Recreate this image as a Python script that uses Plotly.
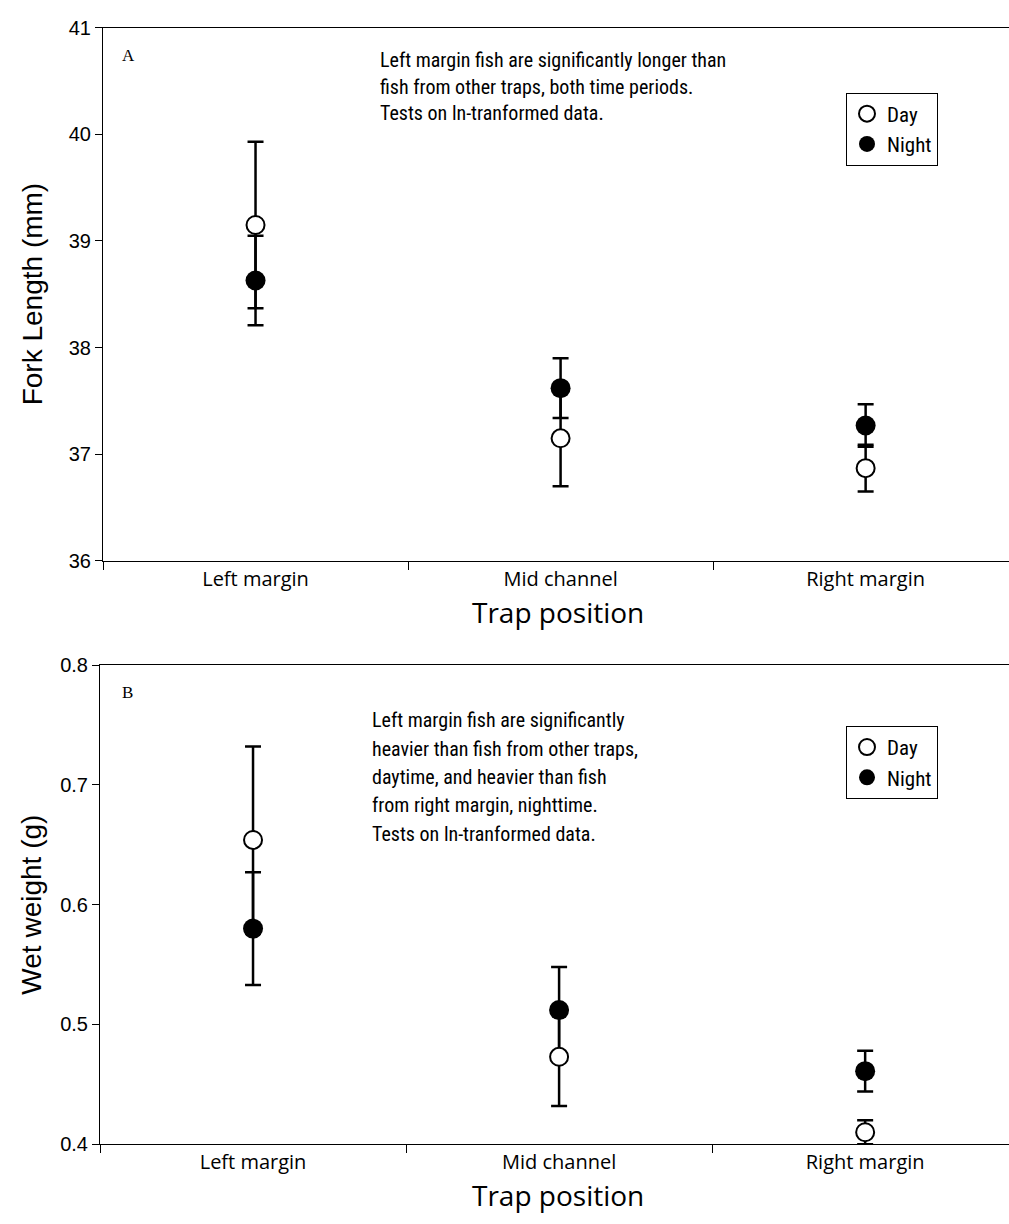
import plotly.graph_objects as go

# ---- data ----
categories = ["Left margin", "Mid channel", "Right margin"]
cat_pos = [1, 2, 3]

fl_day = [39.15, 37.15, 36.87]
fl_day_err = [0.78, 0.45, 0.22]
fl_night = [38.63, 37.62, 37.27]
fl_night_err = [0.42, 0.28, 0.20]

ww_day = [0.654, 0.473, 0.410]
ww_day_err = [0.078, 0.041, 0.010]
ww_night = [0.580, 0.512, 0.461]
ww_night_err = [0.047, 0.036, 0.017]

note_a = ["Left margin fish are significantly longer than",
          "fish from other traps, both time periods.",
          "Tests on ln-tranformed data."]
note_b = ["Left margin fish are significantly",
          "heavier than fish from other traps,",
          "daytime, and heavier than fish",
          "from right margin, nighttime.",
          "Tests on ln-tranformed data."]

W, H = 1009, 1224
COND = "Liberation Sans Narrow, Roboto Condensed, DejaVu Sans Condensed, sans-serif"
ARIAL = "Liberation Sans, Arial, sans-serif"
HUMAN = "Open Sans, Lato, sans-serif"


def px_y(p):
    return 1 - p / H


def px_x(p):
    return p / W


fig = go.Figure()

eb = dict(type="data", color="black", thickness=2.5, width=8)
day_marker = dict(size=18, color="white", line=dict(color="black", width=2))
night_marker = dict(size=20, color="black", line=dict(color="black", width=0))

# top panel (night drawn first so the open day circles sit on top)
fig.add_trace(go.Scatter(x=cat_pos, y=fl_night, mode="markers", name="Night", legendrank=2,
                         marker=night_marker, error_y=dict(array=fl_night_err, **eb),
                         xaxis="x", yaxis="y", legend="legend"))
fig.add_trace(go.Scatter(x=cat_pos, y=fl_day, mode="markers", name="Day", legendrank=1,
                         marker=day_marker, error_y=dict(array=fl_day_err, **eb),
                         xaxis="x", yaxis="y", legend="legend"))
# bottom panel
fig.add_trace(go.Scatter(x=cat_pos, y=ww_night, mode="markers", name="Night", legendrank=2,
                         marker=night_marker, error_y=dict(array=ww_night_err, **eb),
                         xaxis="x2", yaxis="y2", legend="legend2"))
fig.add_trace(go.Scatter(x=cat_pos, y=ww_day, mode="markers", name="Day", legendrank=1,
                         marker=day_marker, error_y=dict(array=ww_day_err, **eb),
                         xaxis="x2", yaxis="y2", legend="legend2"))

top_px, bot_px = 17, 560
top2_px, bot2_px = 666, 1154
left1, left2 = 103, 100

xcommon = dict(range=[0.5, 3.47], tickvals=cat_pos, ticktext=categories, ticks="",
               showline=True, linecolor="black", linewidth=1, mirror=True,
               showgrid=False, zeroline=False,
               tickfont=dict(family=HUMAN, size=20, color="black"),
               minor=dict(ticks="outside", tick0=0.5, dtick=1, ticklen=8, tickcolor="black", tickwidth=1,
                          showgrid=False))
ycommon = dict(ticks="outside", ticklen=7, tickcolor="black", showline=True, linecolor="black",
               linewidth=1, showgrid=False, zeroline=False,
               tickfont=dict(family=ARIAL, size=20, color="black"))

legend_common = dict(xanchor="left", yanchor="top", bordercolor="black", borderwidth=1,
                     bgcolor="white", traceorder="normal",
                     font=dict(family=COND, size=21, color="black"), tracegroupgap=6)

fig.update_layout(
    width=W, height=H, margin=dict(l=0, r=0, t=0, b=0),
    paper_bgcolor="white", plot_bgcolor="white",
    xaxis=dict(domain=[px_x(left1), 1], anchor="y", **xcommon),
    yaxis=dict(domain=[px_y(bot_px), px_y(top_px)], anchor="x", range=[36, 41], dtick=1, **ycommon),
    xaxis2=dict(domain=[px_x(left2), 1], anchor="y2", **xcommon),
    yaxis2=dict(domain=[px_y(bot2_px), px_y(top2_px)], anchor="x2", range=[0.4, 0.8], dtick=0.1,
                tickformat=".1f", **ycommon),
    legend=dict(x=px_x(846), y=px_y(83), **legend_common),
    legend2=dict(x=px_x(846), y=px_y(728), **legend_common),
    showlegend=True,
)


def note(text, x, y, size, family, xanchor="left", angle=0):
    return dict(text=text, x=px_x(x), y=px_y(y), xref="paper", yref="paper",
                xanchor=xanchor, yanchor="middle", textangle=angle, showarrow=False,
                font=dict(family=family, size=size, color="black"))


ann = []
# axis titles
ann.append(note("Fork Length (mm)", 32, (top_px + bot_px) / 2, 28, ARIAL, "center", -90))
ann.append(note("Wet weight (g)", 32, (top2_px + bot2_px) / 2, 28, ARIAL, "center", -90))
ann.append(note("Trap position", 558, 612, 28, HUMAN, "center"))
ann.append(note("Trap position", 558, 1206, 28, HUMAN, "center"))
# panel letters
SERIF = "Liberation Serif, Times New Roman, serif"
ann.append(note("A", 120, 45, 17, SERIF))
ann.append(note("B", 120, 694, 17, SERIF))
# notes
for i, line in enumerate(note_a):
    ann.append(note(line, 378, 50 + 27 * i, 20, COND))
for i, line in enumerate(note_b):
    ann.append(note(line, 370, 722 + 29 * i, 20, COND))
fig.update_layout(annotations=ann)

fig.write_html("out.html")
